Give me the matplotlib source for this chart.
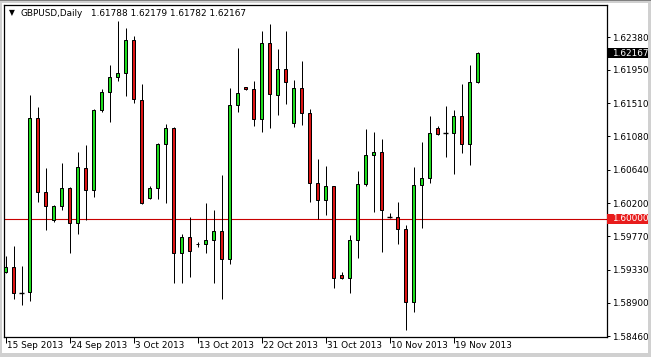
import numpy as np
import matplotlib
matplotlib.use('Agg')
import matplotlib.pyplot as plt
from matplotlib.patches import Rectangle
from matplotlib.transforms import ScaledTranslation, blended_transform_factory

# GBPUSD daily candles, 15 Sep 2013 - 22 Nov 2013 (Sunday bars included)
opens = [1.59306, 1.59362, 1.59031, 1.59035, 1.61314, 1.60345, 1.59987, 1.60162, 1.60397, 1.59939,
         1.60659, 1.60371, 1.61419, 1.61659, 1.61852, 1.61904, 1.62336, 1.61550, 1.60266, 1.60397,
         1.60974, 1.61183, 1.59546, 1.59755, 1.59672, 1.59664, 1.59716, 1.59838, 1.59467, 1.61485,
         1.61721, 1.61694, 1.61301, 1.62297, 1.61616, 1.61956, 1.61249, 1.61707, 1.61380, 1.60463,
         1.60240, 1.60424, 1.59262, 1.59227, 1.59716, 1.60450, 1.60834, 1.60869, 1.60026, 1.60017,
         1.59860, 1.58904, 1.60437, 1.60528, 1.61183, 1.61118, 1.61118, 1.61341, 1.60974, 1.61788]
highs = [1.59511, 1.59642, 1.59380, 1.61620, 1.61459, 1.60668, 1.60179, 1.60734, 1.60419, 1.60873,
         1.60965, 1.61432, 1.61694, 1.62013, 1.62590, 1.62498, 1.62393, 1.61764, 1.60428, 1.60987,
         1.61240, 1.61197, 1.59795, 1.60026, 1.59699, 1.60201, 1.60114, 1.60572, 1.61707, 1.62232,
         1.61729, 1.61804, 1.62459, 1.62550, 1.62218, 1.62459, 1.61817, 1.62066, 1.61432, 1.60782,
         1.60694, 1.60432, 1.59297, 1.59786, 1.60624, 1.61175, 1.61131, 1.61044, 1.60070, 1.60218,
         1.59913, 1.60677, 1.61004, 1.61341, 1.61214, 1.61476, 1.61424, 1.61764, 1.62013, 1.62179]
lows = [1.59284, 1.58943, 1.58865, 1.58926, 1.60223, 1.59852, 1.59961, 1.60114, 1.59555, 1.59795,
        1.59983, 1.60288, 1.61402, 1.61271, 1.61808, 1.61607, 1.61520, 1.60188, 1.60258, 1.60258,
        1.60201, 1.59162, 1.59153, 1.59240, 1.59633, 1.59546, 1.59153, 1.58943, 1.59402, 1.61402,
        1.61686, 1.61214, 1.61140, 1.61183, 1.61358, 1.61498, 1.61197, 1.61227, 1.60223, 1.59991,
        1.60048, 1.59096, 1.59214, 1.59031, 1.59489, 1.60432, 1.60092, 1.59568, 1.60004, 1.59664,
        1.58541, 1.58782, 1.59882, 1.60472, 1.61096, 1.60812, 1.60590, 1.60865, 1.60707, 1.61782]
closes = [1.59371, 1.59022, 1.59031, 1.61314, 1.60345, 1.60162, 1.60162, 1.60397, 1.59939, 1.60677,
          1.60371, 1.61424, 1.61659, 1.61852, 1.61908, 1.62336, 1.61563, 1.60201, 1.60397, 1.60974,
          1.61183, 1.59546, 1.59755, 1.59572, 1.59665, 1.59716, 1.59838, 1.59467, 1.61485, 1.61642,
          1.61694, 1.61301, 1.62297, 1.61629, 1.61956, 1.61786, 1.61707, 1.61380, 1.60463, 1.60240,
          1.60424, 1.59227, 1.59227, 1.59716, 1.60450, 1.60834, 1.60869, 1.60118, 1.60026, 1.59860,
          1.58904, 1.60437, 1.60528, 1.61118, 1.61114, 1.61118, 1.61341, 1.60974, 1.61786, 1.62167]

date_idx = [0, 8, 16, 24, 32, 40, 48, 56]
date_labels = ['15 Sep 2013', '24 Sep 2013', '3 Oct 2013', '13 Oct 2013',
               '22 Oct 2013', '31 Oct 2013', '10 Nov 2013', '19 Nov 2013']
price_ticks = [1.62380, 1.61950, 1.61510, 1.61080, 1.60640, 1.60200,
               1.59770, 1.59330, 1.58900, 1.58460]
level = 1.60000
symbol = 'GBPUSD,Daily'

o = np.array(opens)
h = np.array(highs)
l = np.array(lows)
c = np.array(closes)
x = np.arange(len(o))

W, H = 651, 357
fig = plt.figure(figsize=(W / 100, H / 100), dpi=100)
fig.patch.set_facecolor('white')

# plot frame in pixels
left, right, top, bottom = 4, 606.7, 4.5, 337
ax = fig.add_axes([left / W, (H - bottom) / H, (right - left) / W, (bottom - top) / H])
ax.set_facecolor('white')

px = 0.000131  # price per pixel
ax.set_ylim(level - (bottom - 218.7) * px, level + (218.7 - top) * px)
ax.set_xlim((left - 5.7) / 8, (right - 5.7) / 8)

bull, bear = '#1edc1e', '#dc1414'
lw = 0.72

ax.axhline(level, color='#c80000', linewidth=0.8, zorder=1)
ax.vlines(x, l, h, color='black', linewidth=lw, zorder=2)
up = c > o
dn = c < o
flat = c == o
ax.bar(x[up], (c - o)[up], bottom=o[up], width=0.42, color=bull,
       edgecolor='black', linewidth=lw, zorder=3)
ax.bar(x[dn], (o - c)[dn], bottom=c[dn], width=0.42, color=bear,
       edgecolor='black', linewidth=lw, zorder=3)
ax.hlines(o[flat], x[flat] - 0.28, x[flat] + 0.28, color='black', linewidth=1.0, zorder=3)

for s in ax.spines.values():
    s.set_linewidth(0.9)
    s.set_color('black')

# price axis on the right
ax.yaxis.tick_right()
ax.set_yticks(price_ticks)
ax.set_yticklabels([f'{p:.5f}' for p in price_ticks])
ax.tick_params(axis='y', direction='out', length=2.5, width=lw, pad=1.5,
               labelsize=6.4, colors='black')

# date axis
ax.set_xticks(date_idx)
ax.set_xticklabels(date_labels)
ax.tick_params(axis='x', direction='out', length=4, width=lw, pad=0, labelsize=6.4)
for lbl in ax.get_xticklabels():
    lbl.set_horizontalalignment('left')
    lbl.set_transform(lbl.get_transform() + ScaledTranslation(1 / 100, 1.5 / 100, fig.dpi_scale_trans))

# highlighted price labels
trans = blended_transform_factory(fig.transFigure, ax.transData)
for price, fc in [(c[-1], 'black'), (level, '#e81c1c')]:
    ax.add_patch(Rectangle((607 / W, price - 5 * px), 43 / W, 10 * px, transform=trans,
                           facecolor=fc, edgecolor='none', clip_on=False, zorder=5))
    ax.text(612 / W, price, f'{price:.5f}', transform=trans, color='white',
            fontsize=6.4, va='center', ha='left', clip_on=False, zorder=6)

# header
fig.text(12 / W, 1 - 13 / H, '\u25bc', fontsize=5.5, va='center', ha='center')
fig.text(20.7 / W, 1 - 13.3 / H, symbol, fontsize=6.4, va='center', ha='left')
fig.text(90.7 / W, 1 - 13.3 / H,
         f'{o[-1]:.5f} {h[-1]:.5f} {l[-1]:.5f} {c[-1]:.5f}',
         fontsize=6.4, va='center', ha='left')

# window border (grey bands)
grey = '#d0d0d0'
for (bx, by, bw, bh) in [(0, 0, W, 3), (0, H - 4, W, 4), (0, 0, 2, H), (W - 3, 0, 3, H)]:
    fig.patches.append(Rectangle((bx / W, 1 - (by + bh) / H), bw / W, bh / H,
                                 transform=fig.transFigure, facecolor=grey,
                                 edgecolor='none'))
fig.patches.append(Rectangle((0, 1 - 1 / H), 1, 1 / H, transform=fig.transFigure,
                             facecolor='#808080', edgecolor='none'))

fig.savefig('out.png', dpi=100)
